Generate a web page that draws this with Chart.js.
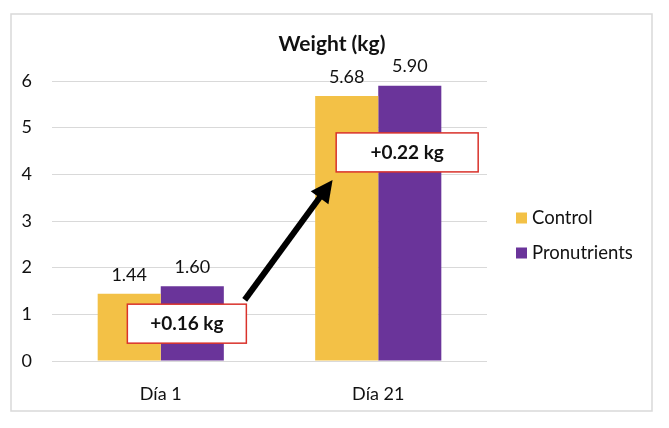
<!DOCTYPE html>
<html>
<head>
<meta charset="utf-8">
<script src="https://cdn.jsdelivr.net/npm/chart.js@4"></script>
<style>
  html, body { margin: 0; padding: 0; background: #fff; }
  #wrap { width: 669px; height: 428px; }
</style>
</head>
<body>
<div id="wrap"><canvas id="chart" width="669" height="428"></canvas></div>
<script>
const categories = ["Día 1", "Día 21"];
const seriesNames = ["Control", "Pronutrients"];
const control = [1.44, 5.68];
const pronutrients = [1.60, 5.90];
const gainLabels = ["+0.16 kg", "+0.22 kg"];
const yMin = 0, yMax = 6, yStep = 1;

const colors = ["#F3C146", "#6A349A"];
const FONT = "Lato, 'Open Sans', sans-serif";

// where the gain boxes and arrow sit, in (category index, value) terms
const gainBoxes = [
  { x: 0.12, y: 0.80, w: 119, h: 39 },
  { x: 1.133, y: 4.47, w: 142, h: 39 },
];
const arrow = { from: [0.386, 1.31], to: [0.79, 3.88] };

const decor = {
  id: "decor",
  beforeDraw(chart) {
    const ctx = chart.ctx;
    ctx.save();
    ctx.fillStyle = "#fff";
    ctx.fillRect(0, 0, chart.width, chart.height);
    ctx.strokeStyle = "#d9d9d9";
    ctx.lineWidth = 1.5;
    ctx.strokeRect(11, 14, 641, 397);
    ctx.restore();
  },
  afterDatasetsDraw(chart) {
    const ctx = chart.ctx;
    const xs = chart.scales.x, ys = chart.scales.y;
    ctx.save();

    // value labels
    ctx.fillStyle = "#111";
    ctx.font = "18px " + FONT;
    ctx.textAlign = "center";
    ctx.textBaseline = "middle";
    chart.data.datasets.forEach((ds, i) => {
      chart.getDatasetMeta(i).data.forEach((bar, j) => {
        ctx.fillText(ds.data[j].toFixed(2), bar.x, bar.y - 19);
      });
    });

    // title
    ctx.font = "bold 21px " + FONT;
    ctx.fillText("Weight (kg)", 332, 44);

    // legend
    ctx.textAlign = "left";
    ctx.font = "18.5px " + FONT;
    seriesNames.forEach((name, i) => {
      const cy = 218 + i * 35;
      ctx.fillStyle = colors[i];
      ctx.fillRect(516, cy - 5.5, 11, 11);
      ctx.fillStyle = "#111";
      ctx.fillText(name, 532, cy);
    });

    // arrow
    const x1 = xs.getPixelForValue(arrow.from[0]), y1 = ys.getPixelForValue(arrow.from[1]);
    const x2 = xs.getPixelForValue(arrow.to[0]), y2 = ys.getPixelForValue(arrow.to[1]);
    const ang = Math.atan2(y2 - y1, x2 - x1);
    const headLen = 22, headHalf = 11;
    const bx = x2 - headLen * Math.cos(ang), by = y2 - headLen * Math.sin(ang);
    ctx.strokeStyle = "#000";
    ctx.lineWidth = 6;
    ctx.beginPath();
    ctx.moveTo(x1, y1);
    ctx.lineTo(bx + 2 * Math.cos(ang), by + 2 * Math.sin(ang));
    ctx.stroke();
    ctx.fillStyle = "#000";
    ctx.beginPath();
    ctx.moveTo(x2, y2);
    ctx.lineTo(bx + headHalf * Math.sin(ang), by - headHalf * Math.cos(ang));
    ctx.lineTo(bx - headHalf * Math.sin(ang), by + headHalf * Math.cos(ang));
    ctx.closePath();
    ctx.fill();

    // gain boxes
    ctx.textAlign = "center";
    gainBoxes.forEach((b, i) => {
      const cx = xs.getPixelForValue(b.x), cy = ys.getPixelForValue(b.y);
      ctx.fillStyle = "#fff";
      ctx.fillRect(cx - b.w / 2, cy - b.h / 2, b.w, b.h);
      ctx.strokeStyle = "#D9322B";
      ctx.lineWidth = 1.5;
      ctx.strokeRect(cx - b.w / 2, cy - b.h / 2, b.w, b.h);
      ctx.fillStyle = "#111";
      ctx.font = "bold 19px " + FONT;
      ctx.fillText(gainLabels[i], cx, cy);
    });
    ctx.restore();
  },
};

new Chart(document.getElementById("chart"), {
  type: "bar",
  data: {
    labels: categories,
    datasets: [
      { label: seriesNames[0], data: control, backgroundColor: colors[0] },
      { label: seriesNames[1], data: pronutrients, backgroundColor: colors[1] },
    ],
  },
  options: {
    responsive: false,
    animation: false,
    layout: { padding: { top: 81, right: 182, bottom: 27, left: 0 } },
    datasets: { bar: { categoryPercentage: 0.58, barPercentage: 1.0 } },
    plugins: { legend: { display: false }, tooltip: { enabled: false } },
    scales: {
      x: {
        grid: { display: false },
        border: { display: false },
        ticks: { color: "#111", font: { family: FONT, size: 18 }, padding: 14 },
        afterFit: (s) => { s.height = 40; },
      },
      y: {
        min: yMin,
        max: yMax,
        grid: { color: "#d9d9d9", drawTicks: false },
        border: { display: false },
        ticks: { stepSize: yStep, color: "#111", font: { family: FONT, size: 18 }, padding: 20 },
        afterFit: (s) => { s.width = 52; },
      },
    },
  },
  plugins: [decor],
});
</script>
</body>
</html>
